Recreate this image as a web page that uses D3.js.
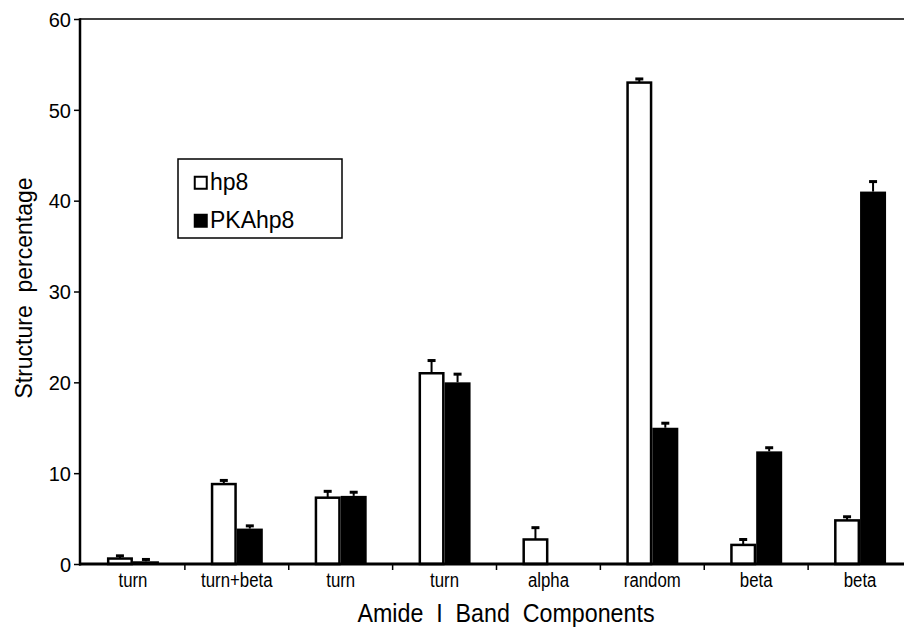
<!DOCTYPE html>
<html>
<head>
<meta charset="utf-8">
<script src="https://cdn.jsdelivr.net/npm/d3@7"></script>
<style>
  body { margin: 0; background: #fff; }
  svg { display: block; }
  text { font-family: "Liberation Sans", Arial, sans-serif; fill: #000; }
</style>
</head>
<body>
<div id="chart"></div>
<script>
// Data
const categories = ["turn", "turn+beta", "turn", "turn", "alpha", "random", "beta", "beta"];
const series = ["hp8", "PKAhp8"];
const hp8 = [0.6, 8.8, 7.3, 21.0, 2.7, 53.0, 2.1, 4.8];
const hp8Err = [0.3, 0.4, 0.7, 1.4, 1.3, 0.4, 0.6, 0.4];
const pkahp8 = [0.3, 3.9, 7.5, 20.0, 0, 15.0, 12.4, 41.0];
const pkahp8Err = [0.2, 0.3, 0.4, 0.9, 0, 0.5, 0.4, 1.1];
const yTicks = [0, 10, 20, 30, 40, 50, 60];

const rows = categories.map((c, i) => ({
    i: i,
    values: [
        {key: "hp8", value: hp8[i], err: hp8Err[i]},
        {key: "PKAhp8", value: pkahp8[i], err: pkahp8Err[i]}
    ]
}));

const W = 904, H = 631;
const svg = d3.select("#chart").append("svg")
    .attr("width", W)
    .attr("height", H);

// Scales
const x = d3.scaleBand()
    .domain(d3.range(categories.length))
    .range([81, 912])
    .paddingInner(0)
    .paddingOuter(0);

const x1 = d3.scaleBand()
    .domain(series)
    .range([x.bandwidth() / 2 - 26, x.bandwidth() / 2 + 26]);

const y = d3.scaleLinear()
    .domain([0, 60])
    .range([564, 19]);

// Top frame line
svg.append("line")
    .attr("x1", 80).attr("x2", W)
    .attr("y1", y(60)).attr("y2", y(60))
    .attr("stroke", "#000")
    .attr("stroke-width", 1.5);

// Y axis
const yAxis = svg.append("g")
    .attr("transform", "translate(80,0)")
    .call(d3.axisLeft(y).tickValues(yTicks).tickSize(6).tickPadding(3));
yAxis.select(".domain").remove();
yAxis.selectAll(".tick line").attr("stroke", "#000").attr("stroke-width", 1.5);
yAxis.selectAll(".tick text")
    .style("font-family", "'Liberation Sans', Arial, sans-serif")
    .style("font-size", "20px")
    .attr("dy", "0.36em");

svg.append("line")
    .attr("x1", 80).attr("x2", 80)
    .attr("y1", y(60) - 0.75).attr("y2", y(0) + 1.5)
    .attr("stroke", "#000")
    .attr("stroke-width", 2.5);

// Bars
const groups = svg.selectAll(".group")
    .data(rows)
    .enter().append("g")
    .attr("class", "group")
    .attr("transform", d => `translate(${x(d.i)},0)`);

groups.selectAll(".bar")
    .data(d => d.values.filter(v => v.value > 0))
    .enter().append("rect")
    .attr("class", "bar")
    .attr("x", v => v.key === "hp8" ? x1(v.key) + 1.25 : x1(v.key))
    .attr("width", v => v.key === "hp8" ? x1.bandwidth() - 2.5 : x1.bandwidth())
    .attr("y", v => y(v.value))
    .attr("height", v => y(0) - y(v.value))
    .attr("fill", v => v.key === "hp8" ? "#fff" : "#000")
    .attr("stroke", v => v.key === "hp8" ? "#000" : "none")
    .attr("stroke-width", 2.5);

// Error bars (upper only)
const errs = groups.selectAll(".err")
    .data(d => d.values.filter(v => v.value > 0))
    .enter().append("g")
    .attr("class", "err")
    .attr("transform", v => `translate(${x1(v.key) + x1.bandwidth() / 2},0)`);

errs.append("line")
    .attr("y1", v => y(v.value))
    .attr("y2", v => y(v.value + v.err))
    .attr("stroke", "#000")
    .attr("stroke-width", 2);

errs.append("line")
    .attr("x1", -4).attr("x2", 4)
    .attr("y1", v => y(v.value + v.err))
    .attr("y2", v => y(v.value + v.err))
    .attr("stroke", "#000")
    .attr("stroke-width", 3);

// X axis
const xAxis = svg.append("g")
    .attr("transform", `translate(0,${y(0)})`)
    .call(d3.axisBottom(x).tickFormat(i => categories[i]).tickSize(0).tickPadding(0));
xAxis.select(".domain").remove();
xAxis.selectAll(".tick text")
    .attr("y", 0)
    .attr("dy", 0)
    .style("font-family", "'Liberation Sans', Arial, sans-serif")
    .style("font-size", "21px")
    .attr("transform", "translate(0,23) scale(0.8,1)");

// boundary ticks between categories
svg.selectAll(".xtick")
    .data(d3.range(1, categories.length))
    .enter().append("line")
    .attr("class", "xtick")
    .attr("x1", i => x(i)).attr("x2", i => x(i))
    .attr("y1", y(0)).attr("y2", y(0) + 6)
    .attr("stroke", "#000")
    .attr("stroke-width", 1.5);

svg.append("line")
    .attr("x1", 79).attr("x2", W)
    .attr("y1", y(0)).attr("y2", y(0))
    .attr("stroke", "#000")
    .attr("stroke-width", 3);

// Axis titles
svg.append("text")
    .attr("transform", "translate(506,622) scale(0.93,1)")
    .attr("text-anchor", "middle")
    .style("font-size", "25px")
    .attr("xml:space", "preserve")
    .text("Amide  I  Band  Components");

svg.append("text")
    .attr("transform", "translate(32,288) rotate(-90)")
    .attr("text-anchor", "middle")
    .style("font-size", "23px")
    .attr("xml:space", "preserve")
    .text("Structure  percentage");

// Legend
const legend = svg.append("g").attr("transform", "translate(178,159)");
legend.append("rect")
    .attr("width", 164).attr("height", 79)
    .attr("fill", "#fff")
    .attr("stroke", "#000")
    .attr("stroke-width", 1.5);

const legendItems = legend.selectAll(".item")
    .data(series)
    .enter().append("g")
    .attr("class", "item")
    .attr("transform", (d, i) => `translate(16,${17 + i * 38})`);

legendItems.append("rect")
    .attr("x", 0.75).attr("y", 0.75)
    .attr("width", 12).attr("height", 12)
    .attr("fill", d => d === "hp8" ? "#fff" : "#000")
    .attr("stroke", "#000")
    .attr("stroke-width", 2);

legendItems.append("text")
    .attr("x", 16)
    .attr("y", 14)
    .style("font-size", "23px")
    .text(d => d);
</script>
</body>
</html>
